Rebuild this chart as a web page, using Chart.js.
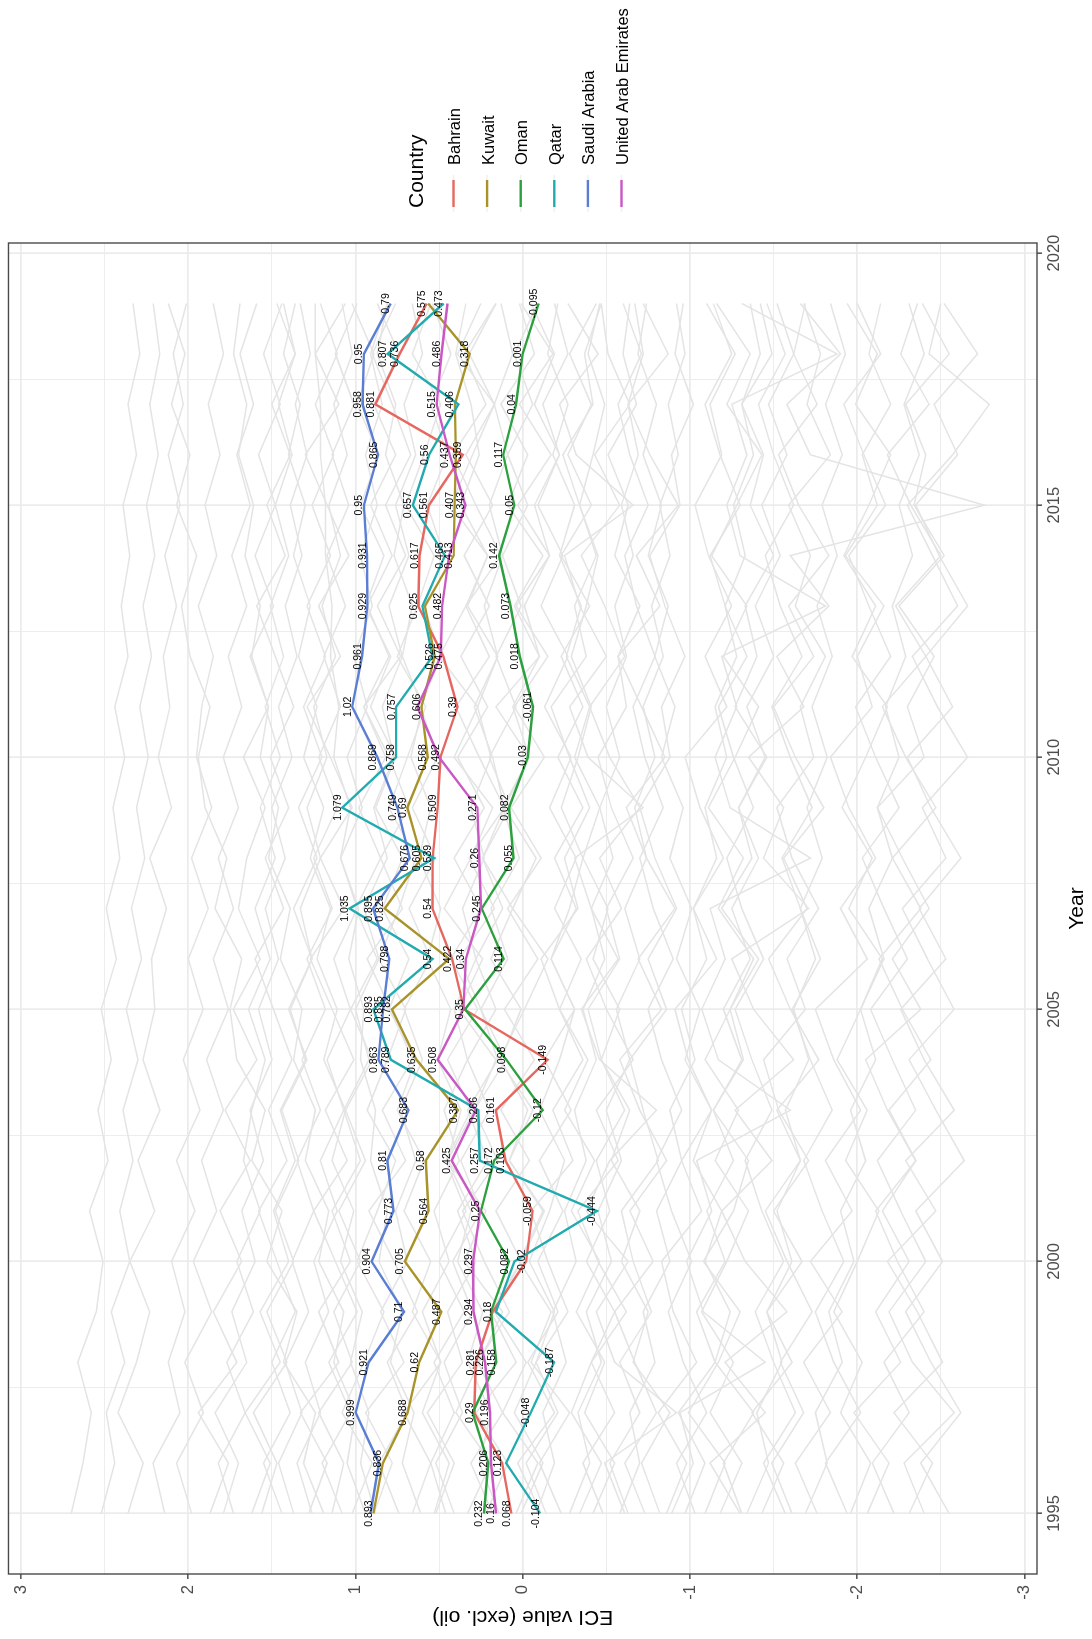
<!DOCTYPE html>
<html>
<head>
<meta charset="utf-8">
<title>ECI value (excl. oil) - GCC</title>
<script src="https://cdn.jsdelivr.net/npm/chart.js@4.4.1/dist/chart.umd.min.js"></script>
<style>
  html, body { margin: 0; padding: 0; background: #fff; }
  body { width: 1092px; height: 1639px; overflow: hidden; position: relative; }
  /* the plot is laid out landscape and turned a quarter turn anticlockwise */
  #turn { position: absolute; left: 0; top: 0; width: 1639px; height: 1092px;
          transform-origin: 0 0; transform: translate(0px, 1639px) rotate(-90deg); }
</style>
</head>
<body>
<div id="turn"><canvas id="eciChart" width="1639" height="1092"></canvas></div>
<script>
const years = [1995,1996,1997,1998,1999,2000,2001,2002,2003,2004,2005,2006,2007,2008,2009,2010,2011,2012,2013,2014,2015,2016,2017,2018,2019];

const countries = ["Bahrain", "Kuwait", "Oman", "Qatar", "Saudi Arabia", "United Arab Emirates"];
const bahrain     = [0.068,0.123,0.29,0.281,0.18,-0.02,-0.059,0.103,0.161,-0.149,0.35,0.422,0.54,0.539,0.509,0.492,0.39,0.475,0.625,0.617,0.561,0.359,0.881,0.736,0.575];
const kuwait      = [0.893,0.836,0.688,0.62,0.487,0.705,0.564,0.58,0.387,0.635,0.782,0.44,0.825,0.605,0.69,0.568,0.606,0.526,0.585,0.413,0.407,0.40,0.406,0.318,0.566];
const oman        = [0.232,0.206,0.30,0.158,0.19,0.082,0.25,0.172,-0.12,0.098,0.345,0.114,0.245,0.055,0.082,-0.03,-0.061,0.018,0.073,0.142,0.05,0.117,0.04,0.001,-0.095];
const qatar       = [-0.104,0.10,-0.048,-0.187,0.16,0.05,-0.444,0.257,0.266,0.789,0.893,0.54,1.035,0.53,1.079,0.758,0.757,0.54,0.60,0.465,0.657,0.56,0.385,0.807,0.473];
const saudiArabia = [0.91,0.86,0.999,0.921,0.71,0.904,0.773,0.81,0.683,0.863,0.835,0.798,0.895,0.676,0.749,0.869,1.02,0.961,0.929,0.931,0.95,0.865,0.958,0.95,0.79];
const uae         = [0.16,0.19,0.196,0.226,0.294,0.297,0.255,0.425,0.28,0.508,0.355,0.34,0.25,0.26,0.271,0.50,0.63,0.49,0.482,0.44,0.343,0.437,0.515,0.486,0.45];
const countryValues = [bahrain, kuwait, oman, qatar, saudiArabia, uae];
const countryColors = ["#E6675F", "#A8932A", "#2CA03E", "#21ABAF", "#5A7ED3", "#C958C4"];

// every other country in the data set, drawn in light grey behind the GCC
const otherCountries = [
  [2.70,2.63,2.58,2.66,2.55,2.51,2.59,2.48,2.54,2.46,2.52,2.43,2.49,2.41,2.45,2.38,2.44,2.36,2.40,2.35,2.39,2.31,2.36,2.29,2.33],
  [2.36,2.27,2.42,2.31,2.23,2.35,2.20,2.30,2.17,2.27,2.20,2.22,2.13,2.23,2.10,2.18,2.11,2.15,2.07,2.14,2.05,2.12,2.03,2.09,2.01],
  [2.14,2.21,2.05,2.12,2.02,2.10,1.96,2.07,1.93,2.03,1.91,2.00,1.88,1.98,1.86,1.95,1.92,1.85,1.94,1.83,1.90,1.81,1.88,1.79,1.85],
  [1.19,1.31,1.24,1.43,1.35,1.53,1.44,1.62,1.54,1.71,1.75,1.68,1.84,1.77,1.90,1.94,1.87,1.99,2.04,1.95,2.07,1.99,2.10,2.02,2.12],
  [1.87,1.76,1.94,1.71,1.85,1.68,1.81,1.63,1.78,1.59,1.73,1.57,1.70,1.65,1.54,1.67,1.52,1.63,1.49,1.60,1.48,1.58,1.45,1.55,1.44],
  [1.73,1.82,1.66,1.77,1.61,1.71,1.57,1.67,1.62,1.54,1.64,1.51,1.60,1.48,1.57,1.45,1.54,1.43,1.51,1.40,1.48,1.38,1.46,1.36,1.43],
  [0.94,1.05,1.00,1.13,1.07,1.22,1.16,1.30,1.24,1.37,1.32,1.45,1.39,1.52,1.46,1.57,1.52,1.62,1.57,1.66,1.61,1.70,1.65,1.73,1.69],
  [1.56,1.47,1.61,1.41,1.53,1.37,1.48,1.34,1.44,1.29,1.40,1.26,1.37,1.23,1.34,1.20,1.31,1.18,1.29,1.15,1.26,1.13,1.24,1.11,1.21],
  [1.37,1.46,1.32,1.42,1.28,1.38,1.25,1.35,1.21,1.32,1.18,1.29,1.14,1.25,1.11,1.22,1.09,1.19,1.06,1.17,1.04,1.14,1.01,1.12,0.99],
  [1.14,1.07,1.22,1.02,1.13,0.97,1.10,0.94,1.06,0.90,1.03,0.87,1.00,0.85,0.98,0.82,0.95,0.80,0.93,0.78,0.91,0.76,0.89,0.74,0.87],
  [0.61,0.72,0.65,0.79,0.72,0.86,0.81,0.91,0.88,0.97,0.95,1.04,0.98,1.09,1.03,1.13,1.10,1.15,1.14,1.18,1.18,1.21,1.21,1.24,1.24],
  [0.89,0.78,0.94,0.71,0.85,0.69,0.76,0.64,0.73,0.60,0.71,0.55,0.68,0.52,0.66,0.51,0.61,0.49,0.59,0.47,0.57,0.45,0.55,0.43,0.54],
  [0.46,0.55,0.41,0.53,0.35,0.50,0.34,0.46,0.31,0.45,0.27,0.43,0.25,0.41,0.23,0.39,0.21,0.37,0.20,0.35,0.18,0.34,0.17,0.32,0.16],
  [0.22,0.09,0.28,0.04,0.19,0.01,0.16,-0.04,0.13,-0.07,0.11,-0.09,0.09,-0.11,0.07,-0.13,0.05,-0.15,0.04,-0.16,0.03,-0.17,0.02,-0.18,0.01],
  [-0.11,0.03,-0.19,-0.03,-0.21,-0.09,-0.24,-0.10,-0.29,-0.13,-0.31,-0.17,-0.32,-0.19,-0.36,-0.21,-0.36,-0.23,-0.40,-0.23,-0.41,-0.27,-0.41,-0.28,-0.44],
  [-0.34,-0.47,-0.29,-0.41,-0.55,-0.38,-0.52,-0.44,-0.61,-0.47,-0.39,-0.58,-0.50,-0.66,-0.53,-0.45,-0.62,-0.57,-0.70,-0.55,-0.63,-0.51,-0.68,-0.60,-0.64],
  [-0.63,-0.52,-0.70,-0.58,-0.77,-0.66,-0.59,-0.81,-0.72,-0.64,-0.86,-0.75,-0.92,-0.79,-0.70,-0.88,-0.83,-0.97,-0.85,-0.76,-0.94,-0.89,-1.02,-0.91,-0.96],
  [-0.86,-0.98,-0.81,-1.04,-0.90,-0.83,-1.07,-0.95,-1.13,-0.99,-0.91,-1.16,-1.02,-1.20,-1.06,-0.97,-1.22,-1.09,-1.25,-1.11,-1.03,-1.19,-1.12,-1.27,-1.10],
  [-1.09,-1.21,-0.99,-1.17,-1.30,-1.08,-1.26,-1.35,-1.14,-1.32,-1.24,-1.41,-1.19,-1.37,-1.29,-1.46,-1.27,-1.40,-1.33,-1.50,-1.36,-1.44,-1.31,-1.49,-1.42],
  [-1.43,-1.56,-1.37,-1.61,-1.46,-1.67,-1.50,-1.71,-1.53,-1.44,-1.69,-1.58,-1.77,-1.61,-1.52,-1.74,-1.66,-1.81,-1.63,-1.72,-1.59,-1.84,-1.70,-1.78,-1.68],
  [-1.76,-1.63,-1.84,-1.68,-1.91,-1.72,-1.97,-1.81,-2.02,-1.86,-1.75,-2.06,-1.90,-2.11,-1.95,-1.84,-2.09,-2.00,-2.16,-1.93,-2.12,-2.03,-2.20,-2.07,-2.14],
  [-2.06,-2.19,-1.98,-2.26,-2.11,-2.31,-2.15,-2.35,-2.18,-2.05,-2.38,-2.21,-2.43,-2.27,-2.12,-2.40,-2.30,-2.46,-2.25,-2.52,-2.34,-2.41,-2.29,-2.55,-2.39],
  [-1.30,-1.12,-1.45,-1.21,-1.58,-1.33,-1.19,-1.49,-1.27,-1.62,-1.38,-1.25,-1.71,-1.44,-1.56,-1.35,-1.68,-1.52,-1.83,-1.60,-2.76,-1.72,-1.58,-1.90,-1.66],
  [-2.31,-2.45,-2.22,-2.51,-2.36,-2.18,-2.47,-2.29,-2.58,-2.40,-2.26,-2.53,-2.37,-2.62,-2.44,-2.30,-2.57,-2.41,-2.66,-2.49,-2.35,-2.60,-2.46,-2.72,-2.52],
  [-0.23,-0.10,-0.28,-0.05,-0.17,0.02,-0.12,0.08,-0.03,0.13,0.01,0.19,0.06,0.24,0.11,0.18,0.29,0.15,0.33,0.21,0.37,0.26,0.31,0.40,0.34],
  [0.52,0.41,0.57,0.36,0.45,0.28,0.39,0.21,0.33,0.15,0.25,0.09,0.19,0.02,0.12,-0.04,0.06,-0.10,-0.01,-0.16,-0.07,-0.22,-0.12,-0.27,-0.19],
  [1.62,1.51,1.66,1.45,1.57,1.40,1.49,1.36,1.45,1.30,1.39,1.26,1.33,1.21,1.29,1.17,1.25,1.12,1.20,1.09,1.16,1.05,1.13,1.02,1.08],
  [0.74,0.86,0.69,0.81,0.63,0.77,0.92,0.70,0.84,0.66,0.79,0.93,0.72,0.85,0.68,0.80,0.95,0.73,0.87,0.70,0.82,0.67,0.78,0.90,0.76],
  [0.04,-0.09,0.12,-0.02,0.17,0.01,-0.13,0.08,-0.06,0.14,-0.01,-0.15,0.06,-0.08,0.11,-0.04,0.16,-0.10,0.05,-0.12,0.09,-0.03,0.13,-0.07,0.02],
  [-0.48,-0.36,-0.55,-0.41,-0.62,-0.45,-0.33,-0.57,-0.44,-0.66,-0.50,-0.38,-0.59,-0.46,-0.70,-0.52,-0.40,-0.61,-0.49,-0.35,-0.58,-0.43,-0.64,-0.51,-0.47],
  [-0.82,-0.71,-0.88,-0.66,-0.75,-0.59,-0.70,-0.53,-0.64,-0.47,-0.58,-0.42,-0.51,-0.36,-0.46,-0.31,-0.40,-0.26,-0.35,-0.22,-0.31,-0.18,-0.27,-0.15,-0.21],
  [-1.31,-1.20,-1.38,-1.15,-1.24,-1.09,-1.19,-1.02,-1.13,-0.97,-1.06,-0.92,-1.01,-0.88,-0.96,-0.83,-0.91,-0.79,-0.87,-0.75,-0.83,-0.72,-0.80,-0.69,-0.74],
  [-0.97,-1.09,-0.93,-1.15,-1.04,-1.21,-1.10,-1.26,-1.14,-1.31,-1.20,-1.36,-1.25,-1.41,-1.29,-1.45,-1.34,-1.50,-1.39,-1.54,-1.43,-1.58,-1.47,-1.62,-1.52],
  [-1.94,-1.81,-2.02,-1.86,-1.75,-1.92,-1.79,-1.68,-1.85,-1.72,-1.61,-1.78,-1.66,-1.55,-1.73,-1.60,-1.49,-1.67,-1.54,-1.45,-1.62,-1.50,-1.41,-1.57,-1.46],
  [-2.40,-2.28,-2.58,-2.33,-2.19,-2.41,-2.26,-2.12,-2.35,-2.21,-2.08,-2.30,-2.16,-2.03,-2.25,-2.11,-1.99,-2.20,-2.07,-1.95,-2.17,-2.04,-1.92,-2.14,-2.00],
  [0.33,0.19,0.40,0.26,0.12,0.35,0.22,0.45,0.29,0.16,0.38,0.24,0.47,0.31,0.18,0.41,0.27,0.50,0.34,0.21,0.43,0.30,0.17,0.39,0.25],
  [1.02,0.90,1.08,0.95,0.83,0.99,0.87,0.76,0.93,0.81,0.70,0.86,0.74,0.64,0.80,0.69,0.58,0.75,0.63,0.53,0.70,0.59,0.49,0.66,0.55],
  [-0.28,-0.40,-0.33,-0.47,-0.38,-0.53,-0.45,-0.59,-0.50,-0.64,-0.56,-0.70,-0.61,-0.74,-0.67,-0.79,-0.72,-0.84,-0.77,-0.88,-0.82,-0.93,-0.87,-0.97,-0.92],
  [1.28,1.17,1.33,1.10,1.22,1.03,1.14,0.97,1.07,0.92,1.00,0.86,0.95,0.81,0.89,0.77,0.84,0.72,0.80,0.68,0.76,0.64,0.71,0.60,0.66],
  [-1.57,-1.44,-1.63,-1.50,-1.39,-1.56,-1.43,-1.33,-1.49,-1.37,-1.27,-1.44,-1.31,-1.22,-1.38,-1.26,-1.17,-1.34,-1.21,-1.12,-1.30,-1.18,-1.09,-1.25,-1.14],
  [1.98,2.07,1.91,2.02,1.86,1.97,1.83,1.92,1.79,1.89,1.76,1.85,1.73,1.82,1.70,1.79,1.68,1.76,1.65,1.74,1.63,1.71,1.61,1.69,1.59],
  [0.14,0.26,0.19,0.33,0.24,0.39,0.31,0.45,0.37,0.51,0.43,0.57,0.49,0.62,0.55,0.67,0.60,0.72,0.66,0.77,0.71,0.82,0.76,0.87,0.81],
  [-0.58,-0.70,-0.64,-0.79,-0.72,-0.88,-0.80,-0.95,-0.88,-1.03,-0.95,-1.10,-1.02,-1.16,-1.09,-1.22,-1.15,-1.28,-1.21,-1.33,-1.26,-1.38,-1.31,-1.42,-1.36],
  [-1.69,-1.82,-1.75,-1.91,-1.83,-1.98,-1.90,-2.05,-1.96,-2.11,-2.02,-2.16,-2.07,-2.21,-2.12,-2.25,-2.17,-2.29,-2.21,-2.33,-2.25,-2.37,-2.28,-2.40,-2.31],
  [0.66,0.55,0.71,0.49,0.60,0.44,0.53,0.38,0.47,0.33,0.41,0.28,0.36,0.23,0.31,0.19,0.27,0.15,0.23,0.12,0.20,0.09,0.17,0.06,0.13],
  [-0.08,-0.19,-0.12,-0.26,-0.18,-0.32,-0.25,-0.38,-0.31,-0.44,-0.36,-0.49,-0.41,-0.54,-0.46,-0.58,-0.50,-0.62,-0.55,-0.66,-0.59,-0.69,-0.63,-0.72,-0.67],
  [1.79,1.70,1.84,1.65,1.74,1.60,1.68,1.55,1.63,1.50,1.58,1.46,1.54,1.42,1.50,1.38,1.46,1.35,1.42,1.32,1.39,1.29,1.36,1.27,1.33],
  [-2.55,-2.38,-2.62,-2.44,-2.29,-2.51,-2.35,-2.64,-2.47,-2.31,-2.58,-2.42,-2.27,-2.53,-2.39,-2.66,-2.48,-2.33,-2.60,-2.45,-2.30,-2.57,-2.79,-2.43,-2.50],
  [2.52,2.44,2.49,2.38,2.46,2.35,2.41,2.33,2.39,2.30,2.37,2.28,2.34,2.26,2.31,2.24,2.29,2.22,2.27,2.20,2.25,2.18,2.23,2.17,2.21],
  [1.44,1.55,1.39,1.50,1.36,1.47,1.58,1.41,1.52,1.38,1.49,1.60,1.43,1.54,1.40,1.51,1.37,1.48,1.59,1.42,1.53,1.39,1.50,1.36,1.47],
  [0.88,0.97,0.92,1.03,0.96,1.09,1.01,1.14,1.06,1.19,1.11,1.23,1.15,1.27,1.19,1.31,1.23,1.34,1.27,1.37,1.30,1.40,1.33,1.43,1.36],
  [0.53,0.44,0.60,0.49,0.66,0.55,0.71,0.59,0.75,0.64,0.80,0.68,0.84,0.72,0.88,0.76,0.91,0.79,0.94,0.83,0.97,0.86,0.99,0.89,1.02],
  [0.18,0.31,0.12,0.27,0.08,0.23,0.36,0.15,0.29,0.10,0.25,0.38,0.17,0.32,0.11,0.26,0.40,0.20,0.34,0.13,0.28,0.42,0.22,0.35,0.16],
  [-0.14,-0.02,-0.21,-0.08,-0.27,-0.15,-0.05,-0.30,-0.18,-0.36,-0.22,-0.11,-0.33,-0.25,-0.40,-0.28,-0.17,-0.38,-0.31,-0.44,-0.34,-0.24,-0.42,-0.37,-0.47],
  [-0.42,-0.55,-0.37,-0.49,-0.32,-0.46,-0.29,-0.43,-0.25,-0.39,-0.22,-0.35,-0.19,-0.32,-0.16,-0.29,-0.13,-0.27,-0.11,-0.24,-0.09,-0.22,-0.07,-0.19,-0.05],
  [-0.73,-0.61,-0.80,-0.67,-0.55,-0.78,-0.64,-0.86,-0.70,-0.58,-0.83,-0.69,-0.91,-0.74,-0.62,-0.85,-0.71,-0.57,-0.82,-0.68,-0.93,-0.76,-0.63,-0.87,-0.72],
  [-1.03,-0.92,-1.10,-0.96,-0.87,-1.01,-0.89,-0.80,-0.95,-0.83,-0.75,-0.90,-0.78,-0.70,-0.84,-0.73,-0.66,-0.79,-0.68,-0.61,-0.75,-0.64,-0.57,-0.71,-0.60],
  [-1.18,-1.31,-1.12,-1.26,-1.07,-1.22,-1.35,-1.15,-1.29,-1.09,-1.24,-1.38,-1.17,-1.32,-1.11,-1.27,-1.41,-1.20,-1.34,-1.13,-1.28,-1.43,-1.22,-1.36,-1.16],
  [-1.34,-1.47,-1.40,-1.55,-1.46,-1.61,-1.52,-1.66,-1.57,-1.71,-1.62,-1.75,-1.66,-1.79,-1.70,-1.82,-1.73,-1.85,-1.76,-1.88,-1.79,-1.91,-1.81,-1.93,-1.84],
  [-1.61,-1.49,-1.68,-1.54,-1.73,-1.58,-1.45,-1.66,-1.52,-1.77,-1.60,-1.47,-1.70,-1.56,-1.80,-1.63,-1.50,-1.74,-1.59,-1.83,-1.65,-1.53,-1.76,-1.62,-1.69],
  [-1.96,-2.08,-1.90,-2.03,-1.86,-2.00,-2.13,-1.93,-2.06,-1.88,-2.02,-2.15,-1.95,-2.09,-1.91,-2.05,-2.18,-1.97,-2.11,-1.92,-2.07,-2.20,-1.99,-2.12,-1.94],
  [0.41,0.52,0.36,0.47,0.30,0.42,0.25,0.37,0.20,0.33,0.16,0.28,0.12,0.24,0.08,0.20,0.04,0.16,0.01,0.12,-0.03,0.09,-0.06,0.05,-0.09],
  [1.08,1.20,1.03,1.16,0.99,1.12,1.25,1.05,1.18,1.01,1.14,1.27,1.07,1.21,1.02,1.15,1.29,1.09,1.22,1.04,1.17,1.30,1.10,1.24,1.06],
  [-0.61,-0.49,-0.92,-0.55,-0.44,-0.63,-0.38,-0.52,-0.80,-0.46,-0.35,-0.57,-0.41,-0.31,-0.72,-0.39,-0.28,-0.50,-0.34,-0.25,-0.66,-0.32,-0.22,-0.45,-0.27],
  [-0.89,-1.02,-0.94,-1.45,-1.08,-0.98,-1.13,-1.04,-1.60,-1.17,-1.07,-1.21,-1.12,-1.72,-1.24,-1.15,-1.28,-1.19,-1.81,-1.30,-1.22,-1.34,-1.25,-1.88,-1.31],
  [1.26,1.35,1.21,1.30,1.16,1.25,1.11,1.21,1.07,1.17,1.03,1.13,0.99,1.09,0.96,1.05,0.93,1.01,0.90,0.97,0.87,0.94,0.84,0.91,0.81],
  [0.01,-0.12,0.05,-0.08,-0.19,-0.04,-0.16,-0.25,-0.10,-0.22,-0.31,-0.17,-0.28,-0.36,-0.23,-0.33,-0.41,-0.29,-0.38,-0.45,-0.34,-0.42,-0.49,-0.39,-0.46],
  [-2.22,-2.09,-2.31,-2.16,-2.40,-2.24,-2.11,-2.35,-2.19,-2.44,-2.27,-2.13,-2.38,-2.21,-2.47,-2.29,-2.15,-2.41,-2.23,-2.50,-2.32,-2.18,-2.43,-2.26,-2.36]
];

// axis breaks: majors get a label, the halves are the minor grid
const yearTicks = [1995, 1997.5, 2000, 2002.5, 2005, 2007.5, 2010, 2012.5, 2015, 2017.5, 2020];
const yearLabels = [1995, 2000, 2005, 2010, 2015, 2020];
const eciTicks = [-3, -2.5, -2, -1.5, -1, -0.5, 0, 0.5, 1, 1.5, 2, 2.5, 3];
const eciLabels = [-3, -2, -1, 0, 1, 2, 3];

const FONT = '"Liberation Sans", Arial, Helvetica, sans-serif';
Chart.defaults.font.family = FONT;

function toPoints(vals) {
  return vals.slice(0, years.length).map((v, i) => ({ x: years[i], y: v }));
}

const datasets = [];
otherCountries.forEach(vals => {
  datasets.push({
    data: toPoints(vals),
    borderColor: "#E4E4E4",
    borderWidth: 1.5,
    pointRadius: 0,
    tension: 0,
    order: 100
  });
});
countries.forEach((name, k) => {
  datasets.push({
    label: name,
    data: toPoints(countryValues[k]),
    borderColor: countryColors[k],
    borderWidth: 2.4,
    pointRadius: 0,
    tension: 0,
    order: 10 - k
  });
});

// panel border on top of everything in the panel
const panelBorder = {
  id: "panelBorder",
  afterDatasetsDraw(chart) {
    const { ctx, chartArea: a } = chart;
    ctx.save();
    ctx.strokeStyle = "#4A4A4A";
    ctx.lineWidth = 1.4;
    ctx.strokeRect(a.left, a.top, a.right - a.left, a.bottom - a.top);
    ctx.restore();
  }
};

// value labels just above each point; a label that would overlap an earlier one is dropped
const valueLabels = {
  id: "valueLabels",
  afterDatasetsDraw(chart) {
    const { ctx } = chart;
    const xs = chart.scales.x, ys = chart.scales.y;
    ctx.save();
    ctx.font = "10.5px " + FONT;
    ctx.fillStyle = "#000";
    ctx.textAlign = "center";
    ctx.textBaseline = "alphabetic";
    const placed = [];
    countries.forEach((name, k) => {
      countryValues[k].forEach((v, i) => {
        const text = String(v);
        const px = xs.getPixelForValue(years[i]);
        const py = ys.getPixelForValue(v) - 1.5;
        const w = ctx.measureText(text).width;
        const box = { l: px - w / 2, r: px + w / 2, t: py - 7.6, b: py };
        const hit = placed.some(p => p.l < box.r && box.l < p.r && p.t < box.b && box.t < p.b);
        if (hit) return;
        placed.push(box);
        ctx.fillText(text, px, py);
      });
    });
    ctx.restore();
  }
};

// axis titles, placed against the panel
const axisTitles = {
  id: "axisTitles",
  afterDraw(chart) {
    const { ctx, chartArea: a } = chart;
    ctx.save();
    ctx.fillStyle = "#000";
    ctx.font = "21px " + FONT;
    ctx.textAlign = "center";
    ctx.textBaseline = "middle";
    ctx.fillText("Year", (a.left + a.right) / 2, 1077);
    ctx.translate(22.5, (a.top + a.bottom) / 2);
    ctx.rotate(-Math.PI / 2);
    ctx.fillText("ECI value (excl. oil)", 0, 0);
    ctx.restore();
  }
};

// legend to the right of the panel
const countryLegend = {
  id: "countryLegend",
  afterDraw(chart) {
    const { ctx } = chart;
    ctx.save();
    ctx.fillStyle = "#000";
    ctx.textAlign = "left";
    ctx.textBaseline = "alphabetic";
    ctx.font = "21px " + FONT;
    ctx.fillText("Country", 1431, 423);
    ctx.font = "16.5px " + FONT;
    countries.forEach((name, k) => {
      const v = 453.5 + k * 33.6;
      ctx.strokeStyle = "#F0F0F0";
      ctx.lineWidth = 1.5;
      ctx.beginPath(); ctx.moveTo(1427, v); ctx.lineTo(1464, v); ctx.stroke();
      ctx.strokeStyle = countryColors[k];
      ctx.lineWidth = 2.4;
      ctx.beginPath(); ctx.moveTo(1432, v); ctx.lineTo(1459, v); ctx.stroke();
      ctx.fillText(name, 1474, v + 6.5);
    });
    ctx.restore();
  }
};

new Chart(document.getElementById("eciChart"), {
  type: "line",
  data: { datasets },
  plugins: [panelBorder, valueLabels, axisTitles, countryLegend],
  options: {
    responsive: false,
    animation: false,
    devicePixelRatio: 1,
    events: [],
    layout: { autoPadding: false, padding: { left: 0, top: 6, right: 243, bottom: 0 } },
    plugins: { legend: { display: false }, tooltip: { enabled: false } },
    scales: {
      x: {
        type: "linear",
        min: 1993.8,
        max: 2020.2,
        afterBuildTicks: s => { s.ticks = yearTicks.map(v => ({ value: v })); },
        afterFit: s => { s.height = 55; },
        ticks: {
          autoSkip: false, maxRotation: 0, padding: 3,
          color: "#4D4D4D", font: { size: 16.5 },
          callback: v => yearLabels.includes(v) ? String(v) : ""
        },
        grid: {
          color: "#EBEBEB",
          lineWidth: c => yearLabels.includes(c.tick.value) ? 1.7 : 0.9,
          tickColor: c => yearLabels.includes(c.tick.value) ? "#333333" : "rgba(0,0,0,0)",
          tickLength: 5,
          tickWidth: 1.3
        },
        border: { display: false },
        title: { display: false }
      },
      y: {
        type: "linear",
        min: -3.075,
        max: 3.075,
        afterBuildTicks: s => { s.ticks = eciTicks.map(v => ({ value: v })); },
        afterFit: s => { s.width = 65; },
        ticks: {
          autoSkip: false, padding: 6,
          color: "#4D4D4D", font: { size: 16.5, lineHeight: 0.3 },
          callback: v => eciLabels.includes(v) ? String(v) : ""
        },
        grid: {
          color: "#EBEBEB",
          lineWidth: c => eciLabels.includes(c.tick.value) ? 1.7 : 0.9,
          tickColor: c => eciLabels.includes(c.tick.value) ? "#333333" : "rgba(0,0,0,0)",
          tickLength: 5,
          tickWidth: 1.3
        },
        border: { display: false },
        title: { display: false }
      }
    }
  }
});
</script>
</body>
</html>
